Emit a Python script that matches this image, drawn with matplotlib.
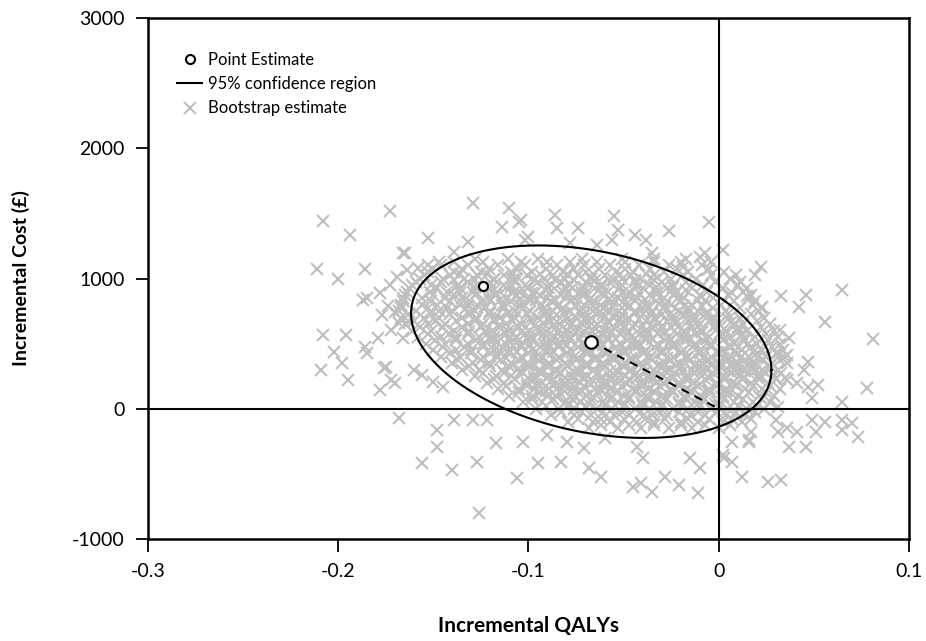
# cost-effectiveness plane: bootstrap replicates, 95% region, point estimate

import numpy as np
import matplotlib
matplotlib.use('Agg')
import matplotlib.pyplot as plt

plt.rcParams['font.family'] = ['Lato', 'DejaVu Sans']

#-----------------------------------
# data (QALYs, £)

point_est = (-0.124, 945)
centre = (-0.067, 515)

# ellipse: centre, x half-width, y at x-extreme, remaining y term
ell_hx = 0.0947
ell_k = -218.0
ell_m = 706.0

# sparse bootstrap replicates around the cloud
out_x = [-0.208, -0.173, -0.194, -0.153, -0.211, -0.200, -0.186, -0.165, -0.208, -0.196,
         -0.202, -0.198, -0.209, -0.195, -0.186, -0.185, -0.179, -0.176, -0.178, -0.170,
         -0.187, -0.185, -0.178, -0.173, -0.169, -0.164, -0.158, -0.153, -0.147, -0.177,
         -0.170, -0.174, -0.168, -0.172, -0.175, -0.172, -0.160, -0.156, -0.150, -0.145,
         -0.166, -0.163,
         -0.168, -0.148, -0.148, -0.156, -0.140, -0.127, -0.117, -0.106, -0.126, -0.139,
         -0.129, -0.122, -0.095, -0.083, -0.103, -0.090, -0.080, -0.071, -0.068, -0.062,
         -0.045, -0.035, -0.041, -0.028, -0.021, -0.011, -0.040, -0.043, -0.015, -0.010,
         -0.060, 0.007, 0.012, 0.026, 0.016, 0.003,
         0.035, 0.041, 0.047, 0.052, 0.078, 0.049, 0.065, 0.031, 0.049, 0.056,
         0.065, 0.070, 0.065, 0.073, 0.051, 0.041, 0.036, 0.037, 0.046, 0.031,
         0.030, 0.017, 0.016, 0.007, 0.002, 0.033,
         -0.005, 0.002, 0.019, 0.022, 0.033, 0.046, 0.065, 0.042, 0.056, 0.081,
         0.023, 0.015, 0.007, 0.032, 0.037, 0.031, 0.036, 0.047, 0.045, 0.036,
         -0.007, -0.006,
         -0.110, -0.086, -0.085, -0.074, -0.055, -0.053, -0.044, -0.038, -0.026, -0.010,
         -0.064, -0.078, -0.105, -0.100, -0.056, -0.035, -0.019, -0.017, -0.129, -0.104,
         -0.114, -0.132, -0.139, -0.102, -0.166]
out_y = [1444, 1520, 1336, 1313, 1075, 998, 1075, 1198, 568, 568,
         438, 353, 300, 223, 476, 430, 545, 315, 146, 200,
         837, 853, 891, 952, 1014, 1067, 1083, 1106, 1129, 722,
         745, 790, 660, 607, 322, 223, 300, 261, 207, 169,
         545, 668,
         -69, -161, -292, -415, -468, -407, -261, -530, -799, -84,
         -84, -84, -415, -407, -253, -200, -253, -300, -453, -522,
         -599, -637, -568, -522, -584, -645, -376, -292, -376, -453,
         -223, -407, -522, -561, -253, -376,
         238, 200, 169, 184, 161, 84, 54, 15, -84, -100,
         -84, -108, -161, -215, -177, -177, -146, -292, -292, -177,
         -84, -177, -238, -253, -353, -545,
         1436, 1221, 1029, 1091, 868, 876, 914, 783, 668, 538,
         783, 868, 891, 607, 545, 430, 415, 361, 300, 223,
         1198, 1067,
         1544, 1490, 1390, 1390, 1482, 1375, 1336, 1298, 1367, 1167,
         1260, 1275, 1436, 1321, 1298, 1198, 1091, 914, 1582, 1452,
         1398, 1283, 1206, 1298, 1198]

# dense part of the cloud, one row per cost level
core_rows = [
    (1150, [-0.128, -0.111, -0.095, -0.072, -0.051, -0.034, -0.017]),
    (1125, [-0.139, -0.124, -0.104, -0.090, -0.078, -0.064, -0.049, -0.034, -0.020, -0.004]),
    (1100, [-0.146, -0.132, -0.116, -0.102, -0.085, -0.071, -0.057, -0.042, -0.026, -0.009]),
    (1075, [-0.150, -0.135, -0.121, -0.106, -0.091, -0.076, -0.063, -0.049, -0.036, -0.022, -0.005]),
    (1050, [-0.153, -0.139, -0.125, -0.109, -0.098, -0.082, -0.070, -0.054, -0.045, -0.029, -0.016, 0.003]),
    (1025, [-0.155, -0.141, -0.127, -0.113, -0.101, -0.087, -0.074, -0.060, -0.046, -0.034, -0.019, -0.004, 0.009]),
    (1000, [-0.157, -0.145, -0.134, -0.118, -0.108, -0.092, -0.081, -0.067, -0.051, -0.041, -0.025, -0.012, 0.006]),
    (975, [-0.159, -0.146, -0.132, -0.120, -0.107, -0.095, -0.083, -0.070, -0.057, -0.044, -0.030, -0.017, -0.002, 0.011]),
    (950, [-0.161, -0.151, -0.137, -0.127, -0.113, -0.102, -0.088, -0.078, -0.062, -0.051, -0.036, -0.024, -0.008, 0.010]),
    (925, [-0.163, -0.148, -0.136, -0.124, -0.112, -0.100, -0.089, -0.077, -0.065, -0.052, -0.040, -0.027, -0.014, 0.002, 0.015]),
    (900, [-0.164, -0.152, -0.143, -0.129, -0.119, -0.105, -0.096, -0.082, -0.072, -0.058, -0.047, -0.033, -0.022, -0.006, 0.013]),
    (875, [-0.165, -0.150, -0.139, -0.128, -0.117, -0.106, -0.094, -0.083, -0.072, -0.060, -0.048, -0.036, -0.024, -0.010, 0.005, 0.017]),
    (850, [-0.166, -0.156, -0.144, -0.135, -0.121, -0.112, -0.099, -0.090, -0.076, -0.067, -0.053, -0.043, -0.029, -0.018, -0.003, 0.016]),
    (825, [-0.166, -0.151, -0.141, -0.131, -0.120, -0.109, -0.099, -0.088, -0.078, -0.066, -0.056, -0.044, -0.033, -0.020, -0.007, 0.008, 0.019]),
    (800, [-0.167, -0.156, -0.148, -0.136, -0.127, -0.114, -0.105, -0.093, -0.084, -0.071, -0.062, -0.049, -0.039, -0.025, -0.014, 0.001, 0.018]),
    (775, [-0.167, -0.153, -0.143, -0.133, -0.123, -0.113, -0.103, -0.092, -0.082, -0.072, -0.061, -0.051, -0.040, -0.029, -0.016, -0.003, 0.011, 0.022]),
    (750, [-0.168, -0.159, -0.147, -0.140, -0.128, -0.120, -0.107, -0.099, -0.087, -0.078, -0.066, -0.057, -0.044, -0.035, -0.021, -0.011, 0.004, 0.021]),
    (725, [-0.163, -0.151, -0.141, -0.131, -0.121, -0.111, -0.101, -0.091, -0.081, -0.071, -0.061, -0.051, -0.040, -0.030, -0.018, -0.007, 0.005, 0.017]),
    (700, [-0.167, -0.155, -0.147, -0.135, -0.127, -0.115, -0.107, -0.095, -0.087, -0.075, -0.067, -0.055, -0.047, -0.034, -0.025, -0.012, -0.002, 0.011, 0.024]),
    (675, [-0.160, -0.149, -0.138, -0.128, -0.118, -0.108, -0.098, -0.088, -0.078, -0.068, -0.058, -0.048, -0.038, -0.027, -0.016, -0.005, 0.007, 0.020]),
    (650, [-0.165, -0.153, -0.144, -0.132, -0.124, -0.112, -0.104, -0.092, -0.084, -0.072, -0.064, -0.052, -0.044, -0.032, -0.023, -0.010, 0.000, 0.013, 0.027]),
    (625, [-0.157, -0.145, -0.135, -0.125, -0.115, -0.105, -0.095, -0.085, -0.075, -0.065, -0.055, -0.045, -0.035, -0.025, -0.014, -0.003, 0.010, 0.022]),
    (600, [-0.161, -0.151, -0.139, -0.131, -0.119, -0.111, -0.099, -0.091, -0.079, -0.071, -0.059, -0.051, -0.039, -0.031, -0.018, -0.009, 0.004, 0.015, 0.029]),
    (575, [-0.153, -0.142, -0.132, -0.122, -0.112, -0.102, -0.092, -0.082, -0.072, -0.062, -0.052, -0.042, -0.032, -0.022, -0.012, 0.000, 0.012, 0.025]),
    (550, [-0.158, -0.146, -0.138, -0.126, -0.118, -0.106, -0.098, -0.086, -0.078, -0.066, -0.058, -0.046, -0.038, -0.026, -0.018, -0.005, 0.006, 0.019, 0.031]),
    (525, [-0.149, -0.138, -0.128, -0.118, -0.108, -0.098, -0.088, -0.078, -0.068, -0.058, -0.048, -0.038, -0.028, -0.018, -0.008, 0.002, 0.014, 0.026]),
    (500, [-0.154, -0.144, -0.132, -0.124, -0.112, -0.104, -0.092, -0.084, -0.072, -0.064, -0.052, -0.044, -0.032, -0.024, -0.012, -0.004, 0.008, 0.020, 0.032]),
    (475, [-0.145, -0.134, -0.124, -0.114, -0.104, -0.094, -0.084, -0.074, -0.064, -0.054, -0.044, -0.034, -0.024, -0.014, -0.004, 0.006, 0.017, 0.028]),
    (450, [-0.150, -0.138, -0.130, -0.118, -0.110, -0.098, -0.090, -0.078, -0.070, -0.058, -0.050, -0.038, -0.030, -0.018, -0.010, 0.002, 0.012, 0.023, 0.034]),
    (425, [-0.141, -0.130, -0.120, -0.110, -0.100, -0.090, -0.080, -0.070, -0.060, -0.050, -0.040, -0.030, -0.020, -0.010, 0.000, 0.010, 0.020, 0.030]),
    (400, [-0.146, -0.136, -0.124, -0.116, -0.104, -0.096, -0.084, -0.076, -0.064, -0.056, -0.044, -0.036, -0.024, -0.016, -0.004, 0.005, 0.016, 0.025, 0.035]),
    (375, [-0.137, -0.125, -0.115, -0.105, -0.095, -0.085, -0.075, -0.065, -0.055, -0.045, -0.035, -0.025, -0.015, -0.005, 0.005, 0.014, 0.023, 0.032]),
    (350, [-0.140, -0.129, -0.121, -0.109, -0.101, -0.089, -0.081, -0.069, -0.061, -0.049, -0.041, -0.029, -0.021, -0.009, 0.000, 0.010, 0.018, 0.028, 0.036]),
    (325, [-0.131, -0.120, -0.110, -0.100, -0.090, -0.080, -0.070, -0.060, -0.050, -0.040, -0.030, -0.020, -0.010, 0.000, 0.009, 0.018, 0.027]),
    (300, [-0.135, -0.126, -0.114, -0.106, -0.094, -0.086, -0.074, -0.066, -0.054, -0.046, -0.034, -0.026, -0.014, -0.006, 0.005, 0.013, 0.023, 0.031]),
    (275, [-0.124, -0.113, -0.103, -0.093, -0.083, -0.073, -0.063, -0.053, -0.043, -0.033, -0.023, -0.013, -0.003, 0.007, 0.016, 0.025, 0.033]),
    (250, [-0.128, -0.117, -0.109, -0.097, -0.089, -0.077, -0.069, -0.057, -0.049, -0.037, -0.029, -0.017, -0.009, 0.003, 0.011, 0.021, 0.029]),
    (225, [-0.118, -0.107, -0.097, -0.087, -0.077, -0.067, -0.057, -0.047, -0.037, -0.027, -0.017, -0.007, 0.003, 0.012, 0.021, 0.030]),
    (200, [-0.122, -0.113, -0.101, -0.093, -0.081, -0.073, -0.061, -0.053, -0.041, -0.033, -0.021, -0.013, -0.001, 0.007, 0.017, 0.026]),
    (175, [-0.112, -0.101, -0.091, -0.081, -0.071, -0.061, -0.051, -0.041, -0.031, -0.021, -0.011, -0.001, 0.009, 0.018, 0.027]),
    (150, [-0.116, -0.105, -0.097, -0.085, -0.077, -0.065, -0.057, -0.045, -0.037, -0.025, -0.017, -0.005, 0.004, 0.014, 0.023, 0.032]),
    (125, [-0.105, -0.094, -0.084, -0.074, -0.064, -0.054, -0.044, -0.034, -0.024, -0.014, -0.004, 0.006, 0.016, 0.025]),
    (100, [-0.110, -0.098, -0.090, -0.078, -0.070, -0.058, -0.050, -0.038, -0.030, -0.018, -0.010, 0.002, 0.010, 0.021, 0.029]),
    (75, [-0.098, -0.087, -0.077, -0.067, -0.057, -0.047, -0.037, -0.027, -0.017, -0.007, 0.003, 0.013, 0.023]),
    (50, [-0.103, -0.093, -0.081, -0.073, -0.061, -0.053, -0.041, -0.033, -0.021, -0.013, -0.001, 0.008, 0.018, 0.027]),
    (25, [-0.091, -0.080, -0.070, -0.060, -0.050, -0.040, -0.030, -0.020, -0.010, 0.000, 0.010, 0.020]),
    (0, [-0.096, -0.084, -0.076, -0.064, -0.056, -0.044, -0.036, -0.024, -0.016, -0.004, 0.005, 0.015, 0.024]),
    (-25, [-0.083, -0.072, -0.061, -0.051, -0.041, -0.031, -0.021, -0.011, -0.001, 0.009, 0.019]),
    (-50, [-0.088, -0.076, -0.067, -0.055, -0.047, -0.035, -0.027, -0.015, -0.007, 0.004, 0.014]),
    (-75, [-0.074, -0.062, -0.050, -0.039, -0.028, -0.016, -0.005, 0.007, 0.017]),
    (-100, [-0.079, -0.066, -0.057, -0.043, -0.034, -0.020, -0.011, 0.002, 0.012]),
    (-125, [-0.062, -0.047, -0.034, -0.020, -0.007, 0.006]),
    (-150, [-0.068, -0.053, -0.041, -0.026, -0.014, 0.000]),
]

# extra replicates piled up in the middle of the cloud
mid_rows = [
    (1038, [-0.136, -0.122, -0.108, -0.094, -0.080, -0.066, -0.052, -0.038]),
    (988, [-0.139, -0.128, -0.118, -0.107, -0.097, -0.086, -0.076, -0.065, -0.055, -0.044, -0.034]),
    (938, [-0.138, -0.128, -0.119, -0.109, -0.100, -0.090, -0.081, -0.071, -0.062, -0.052, -0.043, -0.033, -0.024]),
    (888, [-0.136, -0.127, -0.117, -0.108, -0.098, -0.089, -0.079, -0.070, -0.061, -0.051, -0.042, -0.032, -0.023]),
    (838, [-0.134, -0.124, -0.115, -0.105, -0.096, -0.086, -0.077, -0.068, -0.058, -0.049, -0.039, -0.030, -0.020, -0.011]),
    (788, [-0.132, -0.123, -0.113, -0.104, -0.094, -0.085, -0.075, -0.066, -0.056, -0.047, -0.037, -0.028, -0.018, -0.009]),
    (738, [-0.130, -0.120, -0.111, -0.101, -0.092, -0.082, -0.073, -0.063, -0.054, -0.044, -0.035, -0.025, -0.016, -0.006]),
    (688, [-0.128, -0.118, -0.109, -0.099, -0.090, -0.080, -0.071, -0.061, -0.052, -0.042, -0.033, -0.023, -0.014, -0.004, 0.005]),
    (638, [-0.125, -0.116, -0.106, -0.097, -0.087, -0.078, -0.068, -0.059, -0.049, -0.040, -0.030, -0.021, -0.011, -0.002, 0.008]),
    (588, [-0.123, -0.113, -0.104, -0.094, -0.085, -0.075, -0.066, -0.056, -0.047, -0.037, -0.028, -0.018, -0.009, 0.001, 0.010]),
    (538, [-0.120, -0.111, -0.101, -0.092, -0.082, -0.073, -0.063, -0.054, -0.044, -0.035, -0.025, -0.016, -0.006, 0.003, 0.013]),
    (488, [-0.118, -0.108, -0.099, -0.089, -0.080, -0.070, -0.061, -0.051, -0.042, -0.032, -0.023, -0.013, -0.004, 0.006, 0.015]),
    (438, [-0.115, -0.106, -0.096, -0.087, -0.077, -0.068, -0.058, -0.049, -0.039, -0.030, -0.020, -0.011, -0.001, 0.008, 0.018]),
    (388, [-0.112, -0.103, -0.093, -0.084, -0.074, -0.065, -0.055, -0.046, -0.036, -0.027, -0.017, -0.008, 0.002, 0.011, 0.020]),
    (338, [-0.108, -0.099, -0.089, -0.080, -0.070, -0.061, -0.051, -0.042, -0.032, -0.023, -0.013, -0.004, 0.006, 0.015]),
    (288, [-0.104, -0.095, -0.085, -0.076, -0.066, -0.057, -0.047, -0.038, -0.028, -0.019, -0.009, 0.000, 0.010, 0.019]),
    (238, [-0.100, -0.091, -0.081, -0.072, -0.062, -0.053, -0.043, -0.034, -0.024, -0.015, -0.005, 0.004, 0.013]),
    (188, [-0.096, -0.086, -0.077, -0.067, -0.058, -0.048, -0.039, -0.029, -0.020, -0.010, -0.001, 0.009]),
    (138, [-0.091, -0.081, -0.072, -0.062, -0.053, -0.043, -0.034, -0.024, -0.015, -0.005, 0.004]),
    (88, [-0.085, -0.075, -0.066, -0.056, -0.047, -0.037, -0.028, -0.018, -0.009, 0.001]),
    (38, [-0.078, -0.068, -0.059, -0.049, -0.040, -0.030, -0.021, -0.011, -0.002]),
]

xticks = [-0.3, -0.2, -0.1, 0.0, 0.1]
xlabels = ['-0.3', '-0.2', '-0.1', '0', '0.1']
yticks = [-1000, 0, 1000, 2000, 3000]
ylabels = ['-1000', '0', '1000', '2000', '3000']

#-----------------------------------

boot_x = list(out_x)
boot_y = list(out_y)
for yy, xs in core_rows + mid_rows:
    boot_x += xs
    boot_y += [yy] * len(xs)

fig = plt.figure(figsize=(9.26, 6.41), dpi=100)
ax = fig.add_axes([0.1598, 0.1591, 0.8218, 0.8128])

grey = '#bfbfbf'
ax.plot(boot_x, boot_y, 'x', color=grey, markersize=8, markeredgewidth=1.5,
        label='Bootstrap estimate', zorder=2)

ax.axhline(0, color='black', lw=1.5, zorder=3)
ax.axvline(0, color='black', lw=1.5, zorder=3)

t = np.linspace(0.0, 2.0 * np.pi, 400)
ex = centre[0] + ell_hx * np.cos(t)
ey = centre[1] + ell_k * np.cos(t) + ell_m * np.sin(t)
ax.plot(ex, ey, color='black', lw=1.5, label='95% confidence region', zorder=4)

ax.plot([centre[0], 0.0], [centre[1], 0.0], color='black', lw=1.5,
        ls=(0, (4, 3)), zorder=4)
ax.plot(centre[0], centre[1], 'o', mfc='white', mec='black', mew=1.5,
        markersize=9, zorder=5)
ax.plot(point_est[0], point_est[1], 'o', mfc='white', mec='black', mew=1.5,
        markersize=6.5, label='Point Estimate', zorder=5)

ax.set_xlim(-0.3, 0.1)
ax.set_ylim(-1000, 3000)
ax.set_xticks(xticks)
ax.set_xticklabels(xlabels)
ax.set_yticks(yticks)
ax.set_yticklabels(ylabels)
ax.tick_params(direction='out', length=9, width=1.3, labelsize=14, pad=8)
for s in ax.spines.values():
    s.set_linewidth(1.8)

ax.set_xlabel('Incremental QALYs', fontsize=15, fontweight='bold', labelpad=26)
ax.set_ylabel('Incremental Cost (£)', fontsize=14, fontweight='bold', labelpad=30)

h, l = ax.get_legend_handles_labels()
order = [2, 1, 0]
ax.legend([h[i] for i in order], [l[i] for i in order], loc='upper left',
          bbox_to_anchor=(0.030, 0.948), borderaxespad=0, frameon=False,
          fontsize=12, handlelength=1.45, handletextpad=0.4, labelspacing=0.5)

fig.savefig('out.png', dpi=100)
